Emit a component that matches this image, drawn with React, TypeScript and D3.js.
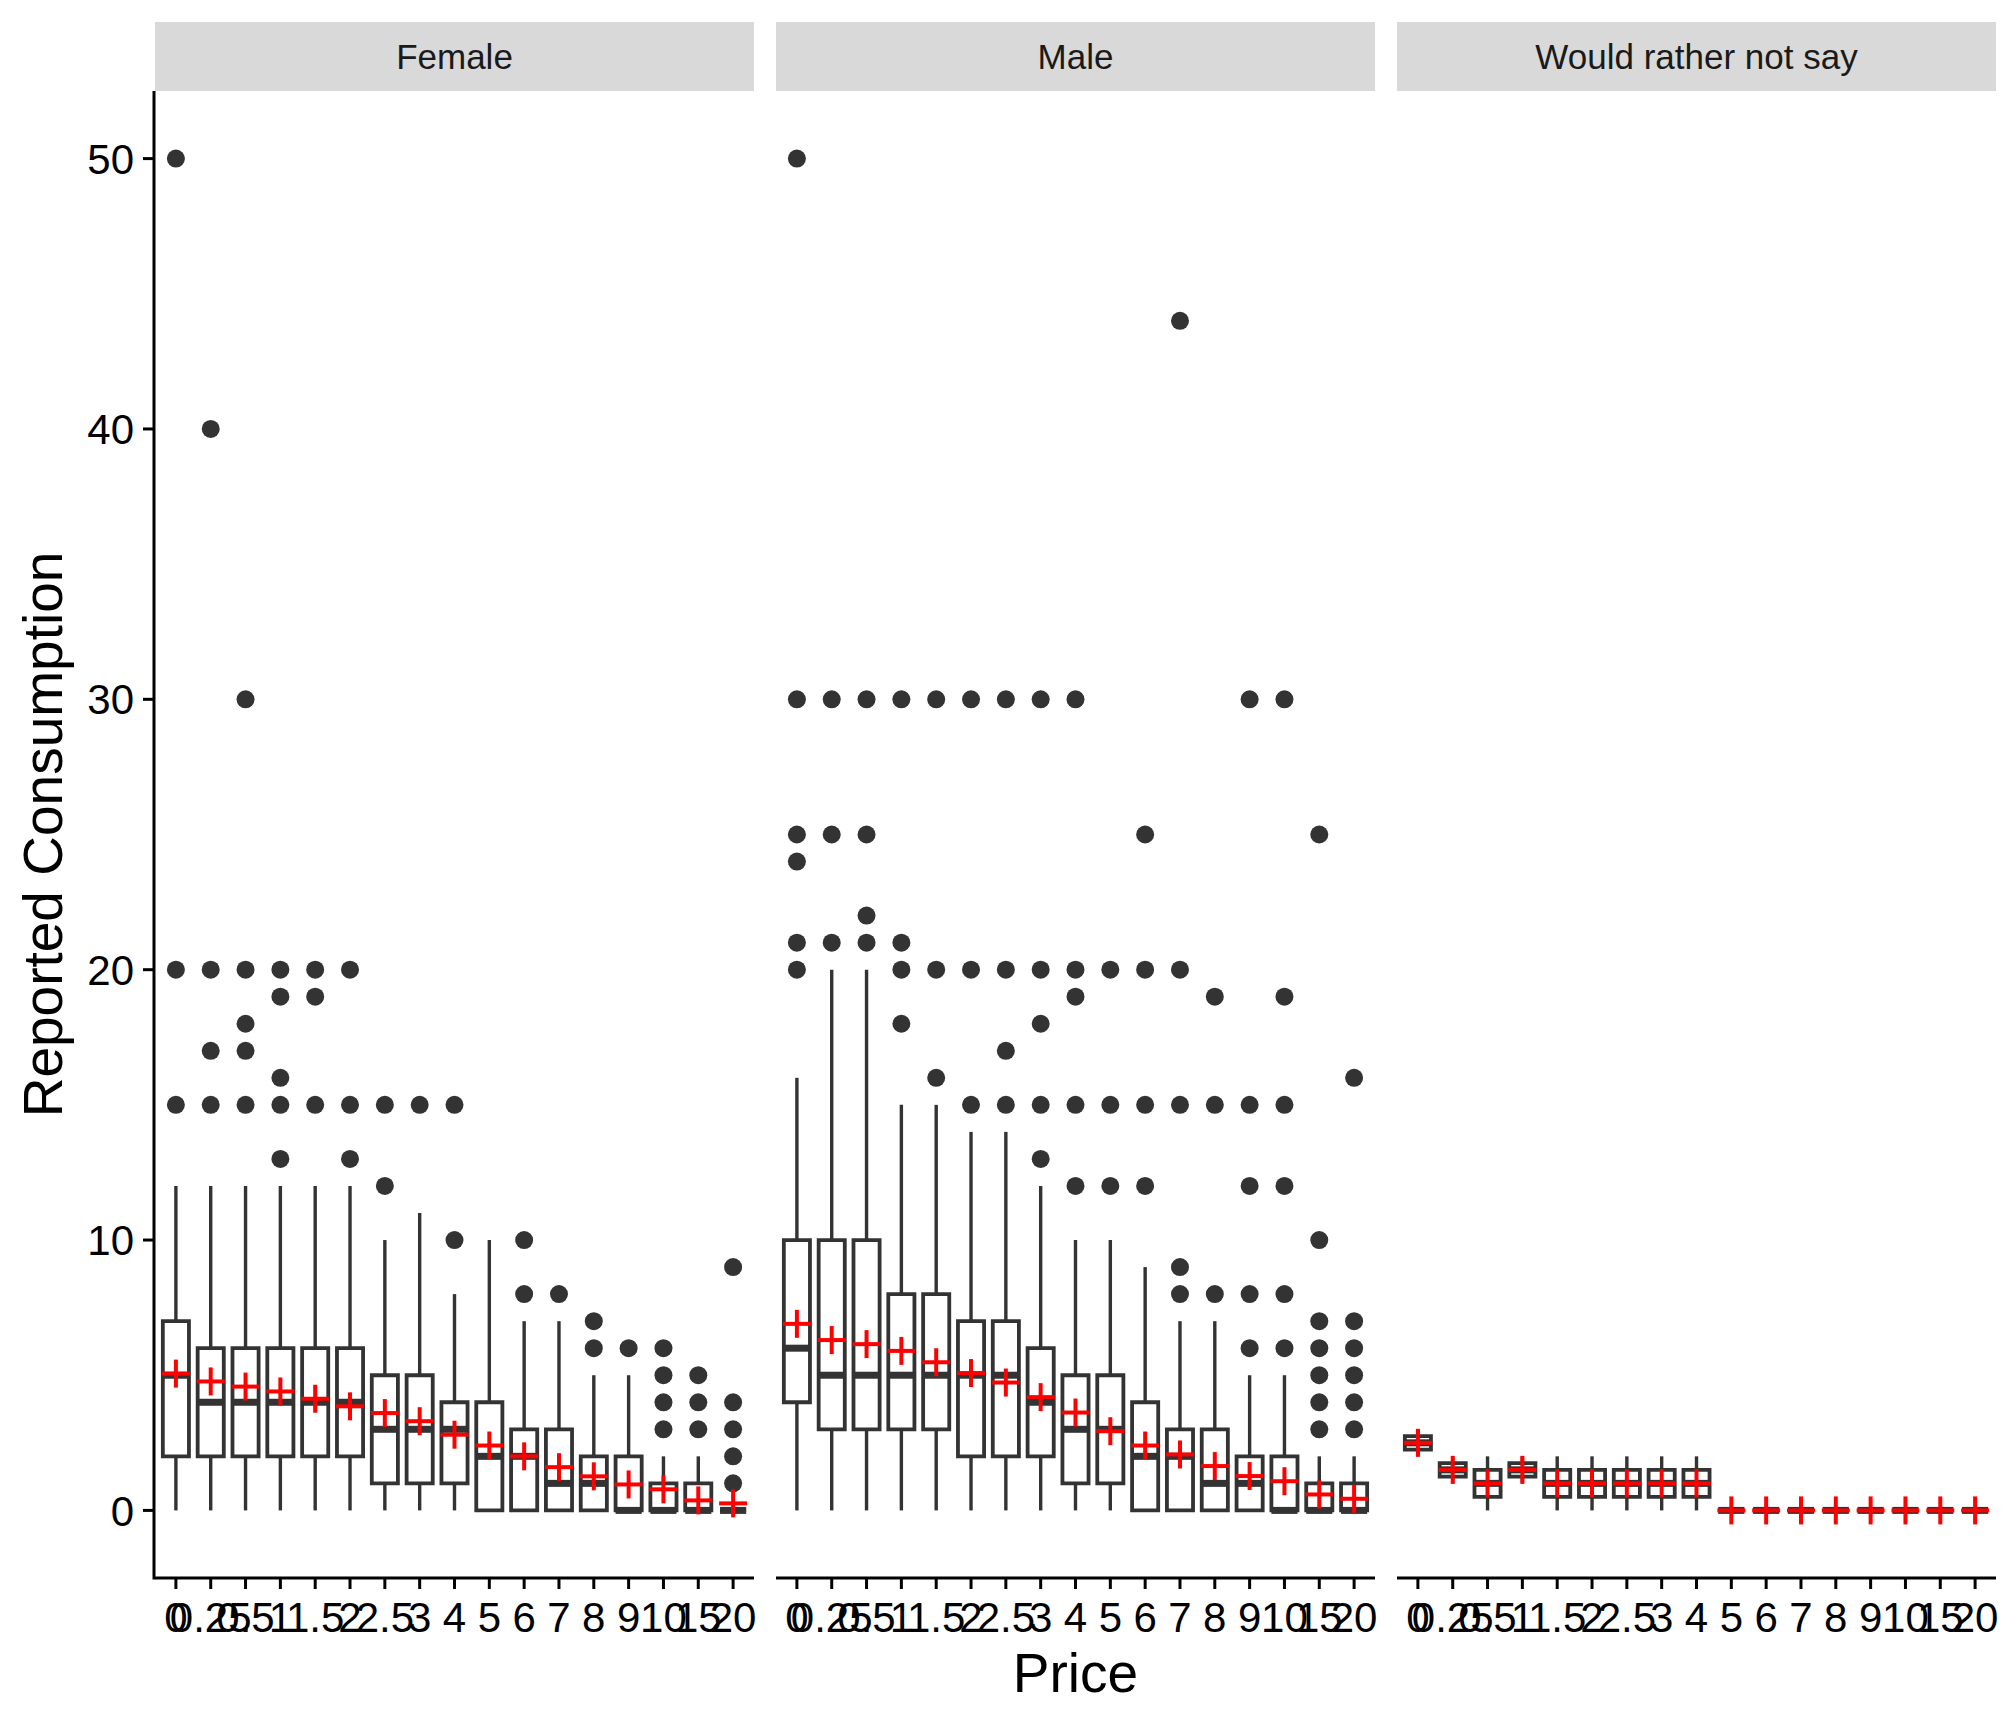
import React from 'react';
import * as d3 from 'd3';

const prices = ['0', '0.25', '0.5', '1', '1.5', '2', '2.5', '3', '4', '5', '6', '7', '8', '9', '10', '15', '20'];
const genders = ['Female', 'Male', 'Would rather not say'];
const yTicks = [0, 10, 20, 30, 40, 50];

// Female
const femaleLow = [0, 0, 0, 0, 0, 0, 0, 0, 0, 0, 0, 0, 0, 0, 0, 0, 0];
const femaleQ1 = [2, 2, 2, 2, 2, 2, 1, 1, 1, 0, 0, 0, 0, 0, 0, 0, 0];
const femaleMedian = [5, 4, 4, 4, 4, 4, 3, 3, 3, 2, 2, 1, 1, 0, 0, 0, 0];
const femaleQ3 = [7, 6, 6, 6, 6, 6, 5, 5, 4, 4, 3, 3, 2, 2, 1, 1, 0];
const femaleHigh = [12, 12, 12, 12, 12, 12, 10, 11, 8, 10, 7, 7, 5, 5, 2, 2, 0];
const femaleMean = [5.06, 4.77, 4.58, 4.4, 4.13, 3.85, 3.6, 3.3, 2.8, 2.4, 2.0, 1.6, 1.26, 0.96, 0.78, 0.37, 0.26];
const femaleOutliers = [
  [50, 20, 15], [40, 20, 17, 15], [30, 20, 18, 17, 15], [20, 19, 16, 15, 13], [20, 19, 15],
  [20, 15, 13], [15, 12], [15], [15, 10], [], [10, 8], [8], [7, 6], [6], [6, 5, 4, 3],
  [5, 4, 3], [9, 4, 3, 2, 1],
];

// Male
const maleLow = [0, 0, 0, 0, 0, 0, 0, 0, 0, 0, 0, 0, 0, 0, 0, 0, 0];
const maleQ1 = [4, 3, 3, 3, 3, 2, 2, 2, 1, 1, 0, 0, 0, 0, 0, 0, 0];
const maleMedian = [6, 5, 5, 5, 5, 5, 5, 4, 3, 3, 2, 2, 1, 1, 0, 0, 0];
const maleQ3 = [10, 10, 10, 8, 8, 7, 7, 6, 5, 5, 4, 3, 3, 2, 2, 1, 1];
const maleHigh = [16, 20, 20, 15, 15, 14, 14, 12, 10, 10, 9, 7, 7, 5, 5, 2, 2];
const maleMean = [6.9, 6.3, 6.15, 5.9, 5.48, 5.08, 4.73, 4.19, 3.62, 2.93, 2.4, 2.07, 1.64, 1.27, 1.08, 0.59, 0.43];
const maleOutliers = [
  [50, 30, 25, 24, 21, 20], [30, 25, 21], [30, 25, 22, 21], [30, 21, 20, 18], [30, 20, 16],
  [30, 20, 15], [30, 20, 17, 15], [30, 20, 18, 15, 13], [30, 20, 19, 15, 12], [20, 15, 12],
  [25, 20, 15, 12], [44, 20, 15, 9, 8], [19, 15, 8], [30, 15, 12, 8, 6], [30, 19, 15, 12, 8, 6],
  [25, 10, 7, 6, 5, 4, 3], [16, 7, 6, 5, 4, 3],
];

// Would rather not say
const otherLow = [2, 1, 0, 1, 0, 0, 0, 0, 0, 0, 0, 0, 0, 0, 0, 0, 0];
const otherQ1 = [2.25, 1.25, 0.5, 1.25, 0.5, 0.5, 0.5, 0.5, 0.5, 0, 0, 0, 0, 0, 0, 0, 0];
const otherMedian = [2.5, 1.5, 1, 1.5, 1, 1, 1, 1, 1, 0, 0, 0, 0, 0, 0, 0, 0];
const otherQ3 = [2.75, 1.75, 1.5, 1.75, 1.5, 1.5, 1.5, 1.5, 1.5, 0, 0, 0, 0, 0, 0, 0, 0];
const otherHigh = [3, 2, 2, 2, 2, 2, 2, 2, 2, 0, 0, 0, 0, 0, 0, 0, 0];
const otherMean = [2.5, 1.5, 1, 1.5, 1, 1, 1, 1, 1, 0, 0, 0, 0, 0, 0, 0, 0];
const otherOutliers: number[][] = prices.map(() => []);

const panelData = [
  { low: femaleLow, q1: femaleQ1, med: femaleMedian, q3: femaleQ3, high: femaleHigh, mean: femaleMean, out: femaleOutliers },
  { low: maleLow, q1: maleQ1, med: maleMedian, q3: maleQ3, high: maleHigh, mean: maleMean, out: maleOutliers },
  { low: otherLow, q1: otherQ1, med: otherMedian, q3: otherQ3, high: otherHigh, mean: otherMean, out: otherOutliers },
];

const W = 2016;
const H = 1728;
const stripTop = 22;
const panelTop = 91;
const panelBottom = 1578;
const plotLeft = 155;
const plotRight = 1996;
const gap = 22;
const panelWidth = (plotRight - plotLeft - 2 * gap) / 3;
const font = '"Liberation Sans", Arial, Helvetica, sans-serif';
const ink = '#333333';
const lw = 3.8;

const y = d3.scaleLinear().domain([-2.5, 52.5]).range([panelBottom, panelTop]);

function Panel({ idx }: { idx: number }) {
  const left = plotLeft + idx * (panelWidth + gap);
  const x = d3.scalePoint<string>().domain(prices).range([left, left + panelWidth]).padding(0.6);
  const bw = x.step() * 0.75;
  const d = panelData[idx];
  return (
    <g>
      <rect x={left} y={stripTop} width={panelWidth} height={panelTop - stripTop} fill="#D9D9D9" />
      <text x={left + panelWidth / 2} y={69} textAnchor="middle" fontSize={35} fill="#1A1A1A" fontFamily={font}>
        {genders[idx]}
      </text>
      {prices.map((p, i) => {
        const cx = x(p) as number;
        const x0 = cx - bw / 2;
        const x1 = cx + bw / 2;
        return (
          <g key={p}>
            <line x1={cx} x2={cx} y1={y(d.q3[i])} y2={y(d.high[i])} stroke={ink} strokeWidth={lw - 0.4} />
            <line x1={cx} x2={cx} y1={y(d.q1[i])} y2={y(d.low[i])} stroke={ink} strokeWidth={lw - 0.4} />
            <path
              d={`M${x0},${y(d.q3[i])}H${x1}V${y(d.q1[i])}H${x0}Z`}
              fill="#fff"
              stroke={ink}
              strokeWidth={lw}
            />
            <line x1={x0} x2={x1} y1={y(d.med[i])} y2={y(d.med[i])} stroke={ink} strokeWidth={7} />
            {d.out[i].map((v, k) => (
              <circle key={k} cx={cx} cy={y(v)} r={9} fill={ink} />
            ))}
          </g>
        );
      })}
      {prices.map((p, i) => {
        const cx = x(p) as number;
        const cy = y(d.mean[i]);
        return (
          <g key={'m' + p} stroke="#FF0000" strokeWidth={4}>
            <line x1={cx - 14} x2={cx + 14} y1={cy} y2={cy} />
            <line x1={cx} x2={cx} y1={cy - 14} y2={cy + 14} />
          </g>
        );
      })}
      <line x1={left} x2={left + panelWidth} y1={panelBottom} y2={panelBottom} stroke="#000" strokeWidth={3} />
      {prices.map((p) => (
        <g key={'t' + p}>
          <line x1={x(p)} x2={x(p)} y1={panelBottom} y2={panelBottom + 11} stroke="#000" strokeWidth={3} />
          <text x={x(p)} y={1632} textAnchor="middle" fontSize={42} fill="#000" fontFamily={font}>
            {p}
          </text>
        </g>
      ))}
    </g>
  );
}

export default function App() {
  return (
    <svg
      width={W}
      height={H}
      viewBox={`0 0 ${W} ${H}`}
      style={{ position: 'absolute', left: 0, top: 0, background: '#fff' }}
    >
      <rect x={0} y={0} width={W} height={H} fill="#fff" />
      {genders.map((g, i) => (
        <Panel key={g} idx={i} />
      ))}
      <line x1={plotLeft - 1} x2={plotLeft - 1} y1={panelTop} y2={panelBottom + 1.5} stroke="#000" strokeWidth={3} />
      {yTicks.map((t) => (
        <g key={t}>
          <line x1={plotLeft - 12} x2={plotLeft - 1} y1={y(t)} y2={y(t)} stroke="#000" strokeWidth={3} />
          <text x={134} y={y(t)} dy="0.36em" textAnchor="end" fontSize={42} fill="#000" fontFamily={font}>
            {t}
          </text>
        </g>
      ))}
      <text x={(plotLeft + plotRight) / 2} y={1692} textAnchor="middle" fontSize={55} fill="#000" fontFamily={font}>
        Price
      </text>
      <text
        transform={`translate(62,${(panelTop + panelBottom) / 2}) rotate(-90)`}
        textAnchor="middle"
        fontSize={55}
        fill="#000"
        fontFamily={font}
      >
        Reported Consumption
      </text>
    </svg>
  );
}
